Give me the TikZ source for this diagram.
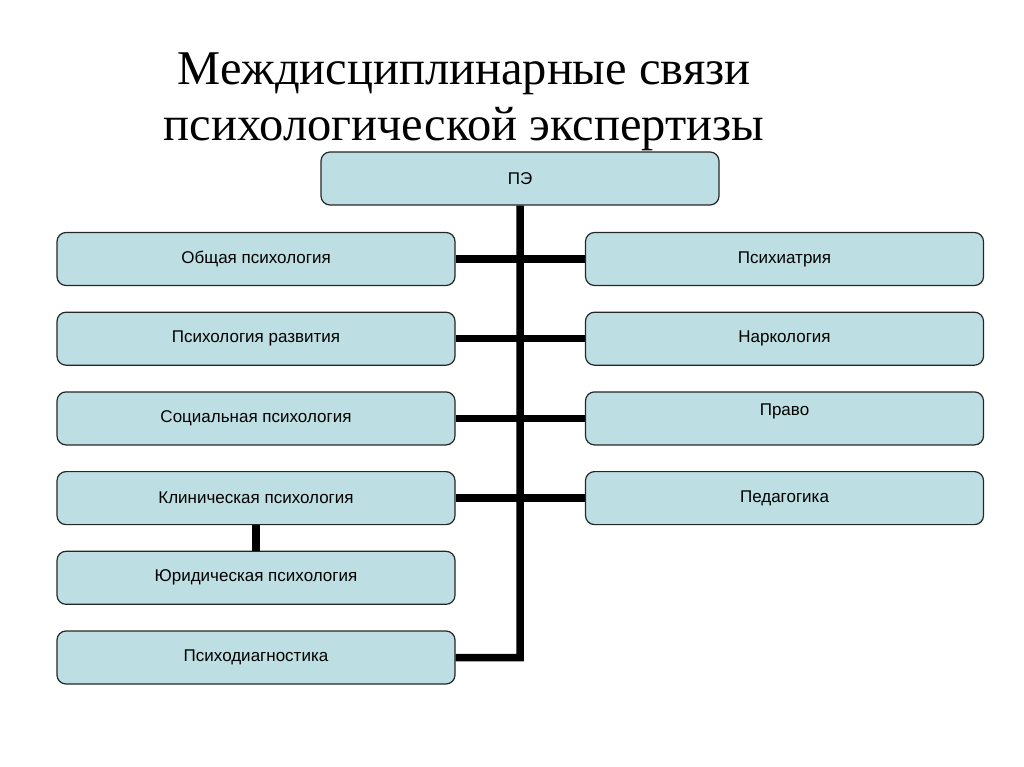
\documentclass[tikz,border=0pt]{standalone}
\usepackage{fontspec}
\setmainfont{Liberation Serif}
\setsansfont{Liberation Sans}
\usetikzlibrary{positioning}
\definecolor{boxfill}{RGB}{189,223,227}
\newcommand{\boxw}{398}
\newcommand{\boxh}{53}
\newcommand{\rowstep}{79.7}

\begin{document}
\begin{tikzpicture}[x=1pt, y=-1pt,
    box/.style={draw=black!85, line width=1.2pt, fill=boxfill, rounded corners=9pt,
        minimum width=\boxw pt, minimum height=\boxh pt, inner sep=0pt,
        font=\sffamily\fontsize{17}{20}\selectfont},
    raised/.style={text depth=17pt},
    plain/.style={},
    link/.style={line width=7.5pt, black},
    title/.style={font=\fontsize{48.5}{56}\selectfont, align=center}]
    \useasboundingbox (0,0) rectangle (1024,767);

    % heading
    \node[title] (head) at (464,102) {Междисциплинарные связи\\психологической экспертизы};

    % boxes
    \node[box] (pe) at (520,178.5) {ПЭ};
    \foreach \name/\txt [count=\i from 0] in {gen/Общая психология, dev/Психология развития,
        soc/Социальная психология, clin/Клиническая психология,
        jur/Юридическая психология, diag/Психодиагностика}
        \node[box] (\name) at (256, 259+\i*\rowstep) {\txt};
    \foreach \name/\txt/\extra [count=\i from 0] in {psy/Психиатрия/plain, narc/Наркология/plain,
        law/Право/raised, ped/Педагогика/plain}
        \node[box, \extra] (\name) at (784.5, 259+\i*\rowstep) {\txt};

    % connectors
    \coordinate (bend) at (520,657.5);
    \draw[link] (pe.south) -- (bend) -- (diag.east);
    \draw[link] (gen.east) -- (psy.west);
    \draw[link] (dev.east) -- (narc.west);
    \draw[link] (soc.east) -- (law.west);
    \draw[link] (clin.east) -- (ped.west);
    \draw[link] (clin.south) -- (jur.north);
\end{tikzpicture}
\end{document}
